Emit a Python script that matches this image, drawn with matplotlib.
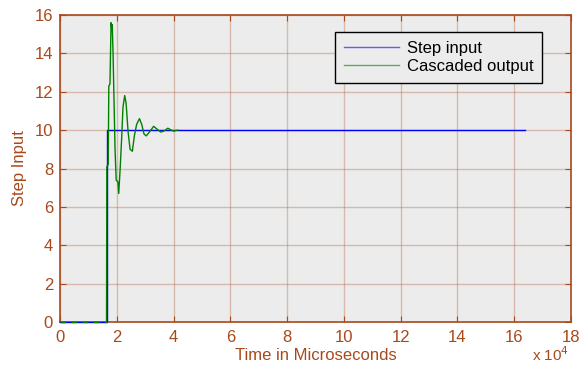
import numpy as np
import matplotlib.pyplot as plt
from matplotlib.ticker import FuncFormatter

plt.rcParams['font.family'] = ['Liberation Sans', 'DejaVu Sans']

# ---- data (time in microseconds) ----
step_t = [0, 16400, 16400, 16500, 16500, 164000]
step_y = [0, 0, 3.6, 3.6, 10, 10]

out_t = [16400, 16500, 17000, 17200, 17600, 18000, 18300, 18400, 18700,
         19000, 19400, 19800, 20400, 20700, 21200, 21700, 22200, 22800,
         23300, 24000, 24700, 25500, 26200, 27000, 28000, 28800, 29600,
         30400, 31500, 33000, 34200, 35500, 36600, 38000, 39200, 40000,
         41500]
out_y = [0, 8.1, 8.2, 12.3, 12.4, 15.6, 15.2, 15.5, 14.0,
         11.8, 9.0, 7.4, 7.3, 6.7, 8.0, 9.5, 11.2, 11.8,
         11.4, 9.9, 9.0, 8.9, 9.7, 10.3, 10.6, 10.3, 9.8,
         9.7, 9.9, 10.2, 10.05, 9.9, 9.95, 10.1, 10.0, 9.95,
         10.0]
zero_t = [0, 16400]
zero_y = [0, 0]

brown = '#a8491c'

fig = plt.figure(figsize=(5.79, 3.67), dpi=100)
ax = fig.add_axes([0.1036, 0.1226, 0.8824, 0.8365])
ax.set_facecolor('#ececec')

ax.plot(step_t, step_y, color='#0000ff', linewidth=1.0, label='Step input',
        clip_on=False, zorder=3)
ax.plot(out_t, out_y, color='#008000', linewidth=1.0, label='Cascaded output',
        zorder=3)
ax.plot(zero_t, zero_y, color='#008000', linewidth=1.0, linestyle=(0, (4, 4)),
        clip_on=False, zorder=3)

ax.set_xlim(0, 180000)
ax.set_ylim(0, 16)
ax.set_xticks(np.arange(0, 180001, 20000))
ax.set_yticks(np.arange(0, 17, 2))
ax.xaxis.set_major_formatter(FuncFormatter(lambda v, p: '%g' % (v / 1e4)))

ax.grid(True, color=brown, alpha=0.3, linewidth=1.0)
for s in ax.spines.values():
    s.set_color(brown)
    s.set_linewidth(1.2)
ax.tick_params(direction='in', length=4, color=brown, labelcolor=brown,
               labelsize=12, top=True, right=True)
ax.tick_params(axis='x', pad=6)
ax.tick_params(axis='y', pad=5)

ax.set_xlabel('Time in Microseconds', color=brown, fontsize=12, labelpad=2)
ax.set_ylabel('Step Input', color=brown, fontsize=12, labelpad=5)
ax.text(0.924, -0.138, r'x 10$^4$', transform=ax.transAxes, color=brown,
        fontsize=11, ha='left', va='bottom')

leg = ax.legend(loc='upper left', bbox_to_anchor=(0.538, 0.945), fontsize=12,
                frameon=True, fancybox=False, framealpha=1.0,
                facecolor='#ececec', edgecolor='black', borderaxespad=0,
                handlelength=3.3, handletextpad=0.45, borderpad=0.55,
                labelspacing=0.15)
leg.get_frame().set_linewidth(1.0)
for h in leg.get_lines():
    h.set_alpha(0.6)

fig.savefig('out.png', dpi=100)
